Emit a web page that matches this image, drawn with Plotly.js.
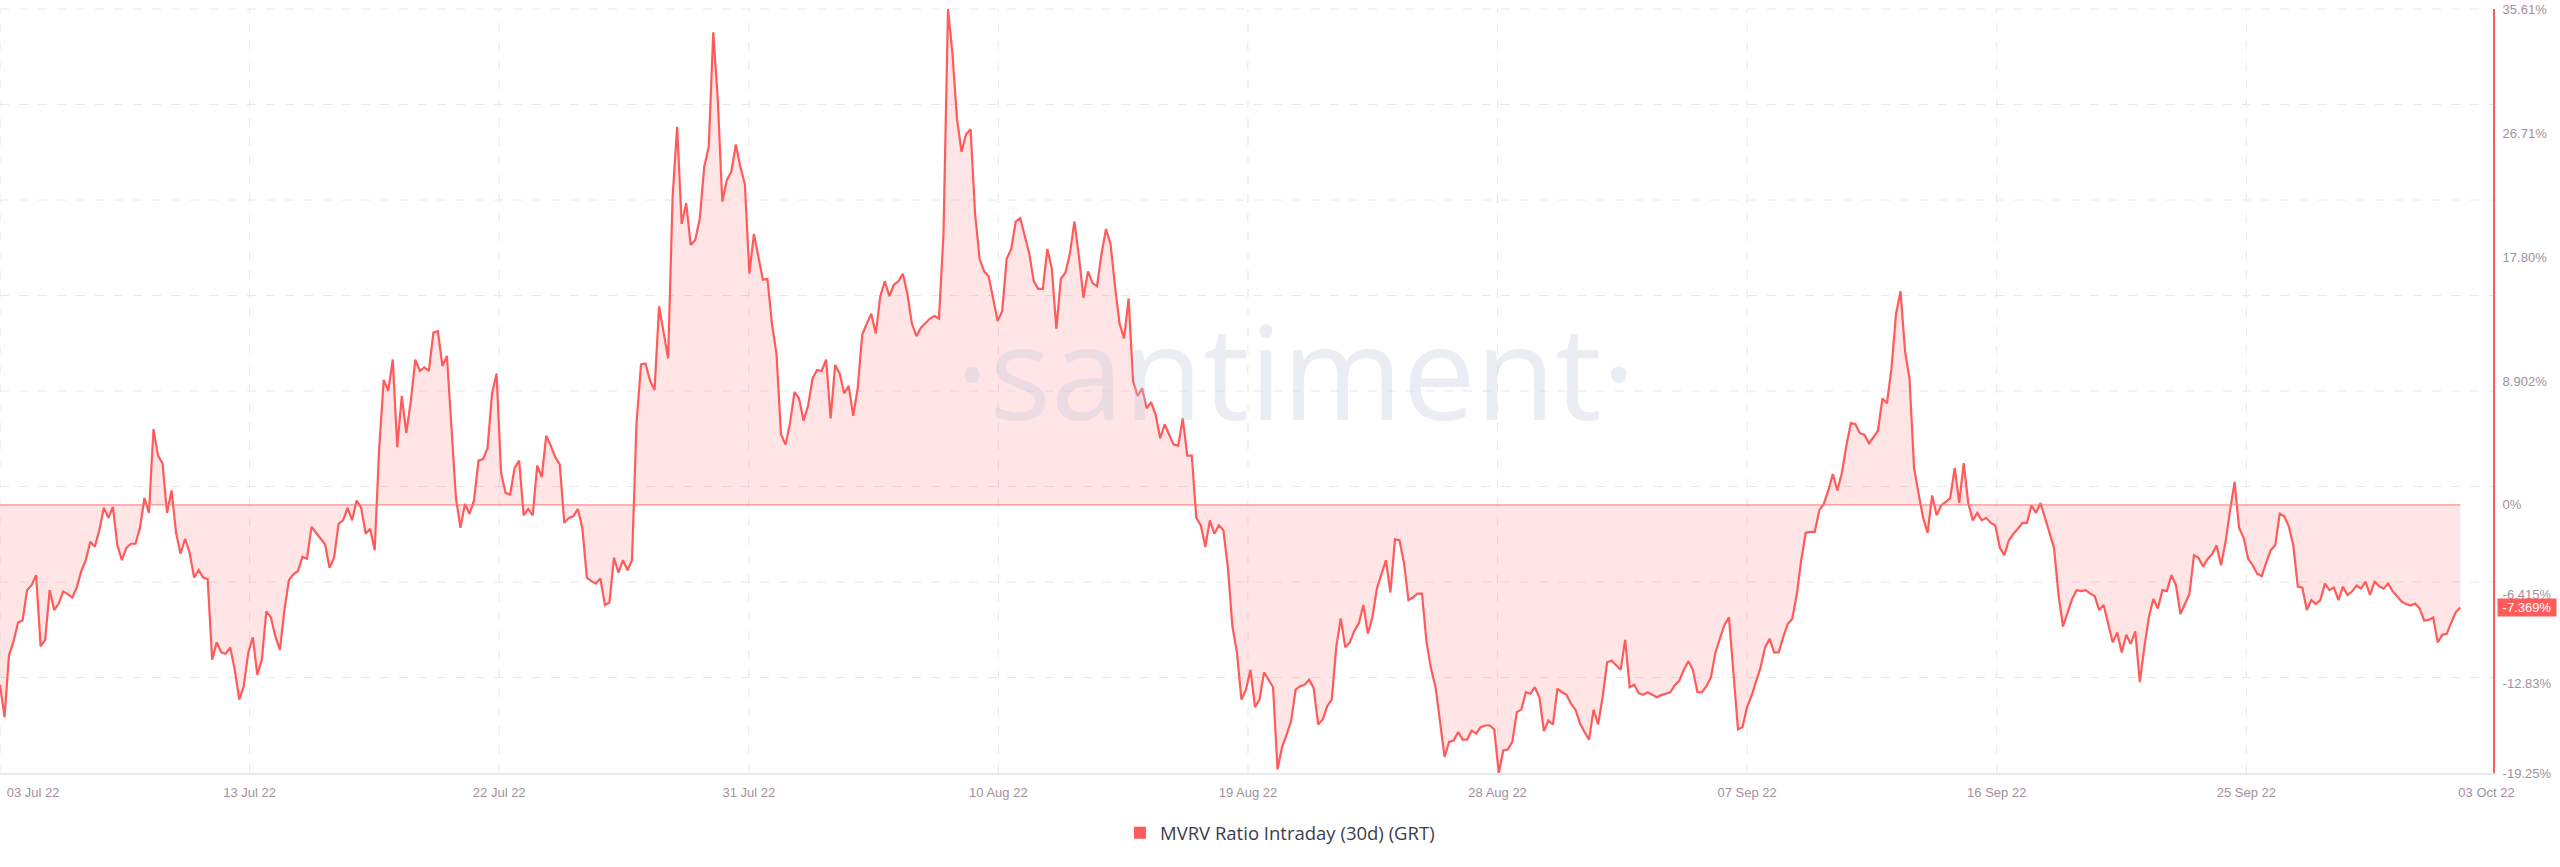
<!DOCTYPE html>
<html>
<head>
<meta charset="utf-8">
<script src="https://cdn.plot.ly/plotly-3.0.1.min.js"></script>
<style>
html,body{margin:0;padding:0;background:#ffffff;}
#chart{width:2560px;height:867px;}
</style>
</head>
<body>
<div id="chart"></div>
<script>
// ---- data (MVRV Ratio Intraday (30d) (GRT), %, 4-hour samples from 03 Jul 2022) ----
const seriesName = 'MVRV Ratio Intraday (30d) (GRT)';
const startDate = '2022-07-03 00:00';
const stepHours = 4;
const mvrv = [
 -12.91,-15.24,-10.77,-9.80,-8.44,-8.30,-6.12,-5.76,-5.04,-10.16,
 -9.69,-6.12,-7.55,-7.08,-6.22,-6.40,-6.65,-5.94,-4.76,-3.97,
 -2.65,-3.00,-1.82,-0.21,-0.93,-0.14,-2.90,-3.97,-3.08,-2.79,
 -2.79,-1.65,0.50,-0.57,5.44,3.54,3.00,-0.57,1.04,-2.00,
 -3.50,-2.43,-3.43,-5.22,-4.69,-5.22,-5.33,-11.12,-9.87,-10.59,
 -10.69,-10.23,-11.84,-13.98,-13.02,-10.59,-9.51,-12.20,-11.12,-7.65,
 -8.08,-9.44,-10.41,-7.55,-5.40,-4.97,-4.76,-3.72,-3.86,-1.57,
 -2.00,-2.43,-2.83,-4.51,-3.79,-1.36,-1.11,-0.21,-1.11,0.32,
 -0.21,-2.07,-1.72,-3.25,4.08,8.98,8.19,10.44,4.15,7.83,
 5.15,7.47,10.44,9.62,9.87,9.62,12.37,12.48,9.98,10.69,
 5.15,0.50,-1.65,0.07,-0.64,0.32,3.18,3.29,4.08,8.01,
 9.44,2.29,0.86,0.75,2.65,3.18,-0.75,-0.29,-0.75,2.83,
 2.00,4.97,4.26,3.43,2.90,-1.29,-0.93,-0.82,-0.29,-1.65,
 -5.22,-5.47,-5.65,-5.29,-7.19,-7.01,-3.79,-4.86,-3.97,-4.69,
 -3.97,5.87,10.09,10.16,8.91,8.26,14.27,12.48,10.52,22.14,
 27.15,20.17,21.67,18.67,19.03,20.53,24.28,25.72,33.94,29.11,
 21.78,23.32,23.93,25.89,24.28,23.03,16.60,19.46,17.85,16.17,
 16.24,13.02,10.87,5.08,4.33,5.87,8.12,7.65,6.04,7.12,
 9.08,9.69,9.62,10.44,6.22,10.05,9.44,8.01,8.55,6.40,
 8.37,12.23,13.02,13.73,12.30,14.99,16.06,14.99,15.81,16.06,
 16.60,15.16,13.02,12.12,12.73,13.02,13.38,13.56,13.38,19.46,
 35.61,32.33,27.68,25.36,26.61,26.97,20.89,17.67,16.77,16.42,
 14.81,13.20,13.91,17.67,18.38,20.35,20.60,19.28,18.03,16.06,
 15.52,15.52,18.38,16.95,12.66,16.24,16.67,18.03,20.35,17.85,
 14.88,16.77,15.95,15.70,18.03,19.81,18.74,15.70,13.02,11.95,
 14.81,8.91,7.83,8.37,6.94,7.37,6.47,4.79,5.79,5.04,
 4.33,4.26,6.22,3.54,3.54,-0.93,-1.47,-3.00,-1.11,-2.07,
 -1.47,-1.82,-4.51,-8.73,-10.59,-13.98,-13.27,-11.84,-14.52,-13.98,
 -12.02,-12.55,-13.09,-18.99,-17.38,-16.49,-15.52,-13.27,-13.02,-12.91,
 -12.55,-13.16,-15.77,-15.41,-14.45,-13.98,-10.23,-8.15,-10.23,-9.87,
 -9.05,-8.51,-7.19,-9.23,-8.08,-6.01,-5.04,-3.97,-6.29,-2.47,
 -2.54,-4.15,-6.83,-6.65,-6.37,-6.37,-9.87,-11.77,-13.09,-15.41,
 -18.10,-17.02,-16.92,-16.31,-16.85,-16.85,-16.20,-16.42,-15.95,-15.84,
 -15.84,-16.13,-19.25,-17.63,-17.56,-17.02,-14.88,-14.70,-13.45,-13.56,
 -13.09,-13.81,-16.24,-15.49,-15.77,-13.20,-13.45,-13.63,-14.27,-14.70,
 -15.70,-16.31,-16.85,-14.70,-15.77,-13.81,-11.30,-11.19,-11.48,-11.84,
 -9.69,-13.09,-12.91,-13.52,-13.63,-13.45,-13.63,-13.81,-13.66,-13.56,
 -13.45,-12.95,-12.62,-11.84,-11.23,-11.84,-13.45,-13.45,-13.02,-12.37,
 -10.59,-9.58,-8.62,-8.08,-12.37,-16.13,-15.95,-14.52,-13.70,-12.73,
 -11.66,-10.23,-9.62,-10.59,-10.59,-9.51,-8.55,-8.19,-6.47,-3.97,
 -2.00,-1.93,-1.93,-0.39,0.07,1.04,2.22,1.04,2.29,4.26,
 5.87,5.79,5.15,5.04,4.43,4.86,5.33,7.65,7.30,9.80,
 13.73,15.34,11.05,9.01,2.65,0.79,-0.93,-2.00,0.68,-0.75,
 -0.04,0.21,0.50,2.65,0.14,3.00,0.14,-1.11,-0.57,-1.11,
 -0.93,-1.29,-1.47,-3.08,-3.61,-2.54,-2.07,-1.72,-1.29,-1.29,
 -0.04,-0.57,0.14,-0.93,-2.00,-3.08,-6.47,-8.73,-7.73,-6.76,
 -6.12,-6.19,-6.12,-6.37,-6.54,-7.55,-7.19,-8.44,-9.87,-9.16,
 -10.59,-9.33,-9.98,-9.08,-12.73,-10.23,-8.08,-6.76,-7.44,-6.12,
 -6.19,-5.04,-5.76,-7.83,-7.08,-6.40,-3.61,-3.79,-4.43,-3.90,
 -3.54,-2.90,-4.33,-2.65,-0.39,1.65,-1.65,-2.36,-3.86,-4.33,
 -4.94,-5.11,-4.15,-3.25,-2.90,-0.64,-0.82,-1.54,-2.90,-5.87,
 -5.94,-7.55,-6.83,-7.12,-6.83,-5.65,-6.12,-5.94,-6.83,-5.87,
 -6.47,-6.22,-5.79,-6.01,-5.51,-6.47,-5.51,-5.83,-6.01,-5.65,
 -6.19,-6.54,-6.94,-7.12,-7.22,-7.08,-7.44,-8.30,-8.26,-8.08,
 -9.87,-9.33,-9.26,-8.44,-7.69,-7.369
];
const xTickLabels = ['03 Jul 22','13 Jul 22','22 Jul 22','31 Jul 22','10 Aug 22','19 Aug 22','28 Aug 22','07 Sep 22','16 Sep 22','25 Sep 22','03 Oct 22'];
const yTickVals = [35.61, 26.71, 17.80, 8.902, 0, -6.415, -12.83, -19.25];
const yTickText = ['35.61%','26.71%','17.80%','8.902%','0%','-6.415%','-12.83%','-19.25%'];
const lastLabel = '-7.369%';
const watermark = '·santiment·';

// ---- layout helpers (positions in days from start) ----
const xTickDays = [1.22, 9.215, 18.43, 27.644, 36.859, 46.074, 55.289, 64.504, 73.718, 82.933, 91.80];
const gridDays = [0, 9.215, 18.43, 27.644, 36.859, 46.074, 55.289, 64.504, 73.718, 82.933];
const rangeDays = 92.04;

const HOUR = 3600e3;
const t0 = Date.parse(startDate.replace(' ', 'T') + ':00Z');
function fmt(ms){ return new Date(ms).toISOString().slice(0,19).replace('T',' '); }
const times = mvrv.map((_, i) => fmt(t0 + i * stepHours * HOUR));
const dayToDate = d => fmt(t0 + d * 24 * HOUR);

const RED = '#ff5b5b';
const GRID = '#e6e8f0';
const TICKCOL = '#a3909c';
const WM = 'rgba(196,201,224,0.34)';

const shapes = [];
for (let k = 1; k <= 8; k++) {
  shapes.push({type:'line', xref:'paper', yref:'paper', x0:0, x1:1, y0:k/8, y1:k/8,
    line:{color:GRID, width:1, dash:'9px,10px'}, layer:'below'});
}
gridDays.forEach(d => shapes.push({type:'line', xref:'x', yref:'paper', x0:dayToDate(d), x1:dayToDate(d), y0:0, y1:1,
    line:{color:GRID, width:1, dash:'9px,10px'}, layer:'below'}));
shapes.push({type:'line', xref:'x', yref:'y', x0:times[0], x1:times[times.length-1], y0:0, y1:0,
    line:{color:'#ff7373', width:1}, layer:'above'});

const traces = [
  {type:'scatter', mode:'lines', x: times, y: mvrv, fill:'tozeroy',
   fillcolor:'rgba(255,91,91,0.16)', line:{color:RED, width:2.2}, showlegend:false, hoverinfo:'skip'},
  {type:'scatter', mode:'markers', x:[null], y:[null], name: seriesName,
   marker:{symbol:'square', size:12, color:RED}, showlegend:true}
];

const layout = {
  width:2560, height:867,
  margin:{l:0, r:67, t:9, b:94},
  paper_bgcolor:'#ffffff', plot_bgcolor:'#ffffff',
  font:{family:'"Liberation Sans", Arial, sans-serif', size:13, color:TICKCOL},
  xaxis:{type:'date', range:[dayToDate(0), dayToDate(rangeDays)],
    tickvals: xTickDays.map(dayToDate), ticktext: xTickLabels,
    showgrid:false, zeroline:false, showline:true, linecolor:'#e7e9f1', linewidth:2,
    ticks:'', ticklabelstandoff:6, tickfont:{size:13, color:TICKCOL}},
  yaxis:{side:'right', range:[-19.25, 35.61], tickvals:yTickVals, ticktext:yTickText,
    showgrid:false, zeroline:false, showline:true, linecolor:RED, linewidth:2,
    ticks:'', ticklabelstandoff:5, tickfont:{size:13, color:TICKCOL}},
  shapes: shapes,
  showlegend:true,
  legend:{orientation:'h', xref:'container', yref:'container', x:0.5, xanchor:'center', y:0.039, yanchor:'middle',
    font:{family:'"Open Sans", sans-serif', size:18.5, color:'#3a3e4c'}, itemwidth:30},
  annotations:[
    {xref:'paper', yref:'paper', x:0.5197, y:0.5275, xanchor:'center', yanchor:'middle', showarrow:false,
     text:watermark, font:{family:'"Open Sans", sans-serif', size:130, color:WM}},
    {xref:'paper', yref:'y', x:1, y: mvrv[mvrv.length-1], xanchor:'left', yanchor:'middle', xshift:4,
     showarrow:false, text:lastLabel, bgcolor:RED, borderpad:1, width:56, height:15,
     font:{family:'"Liberation Sans", Arial, sans-serif', size:13, color:'#ffffff'}}
  ]
};

Plotly.newPlot('chart', traces, layout, {displayModeBar:false, staticPlot:true});
</script>
</body>
</html>
